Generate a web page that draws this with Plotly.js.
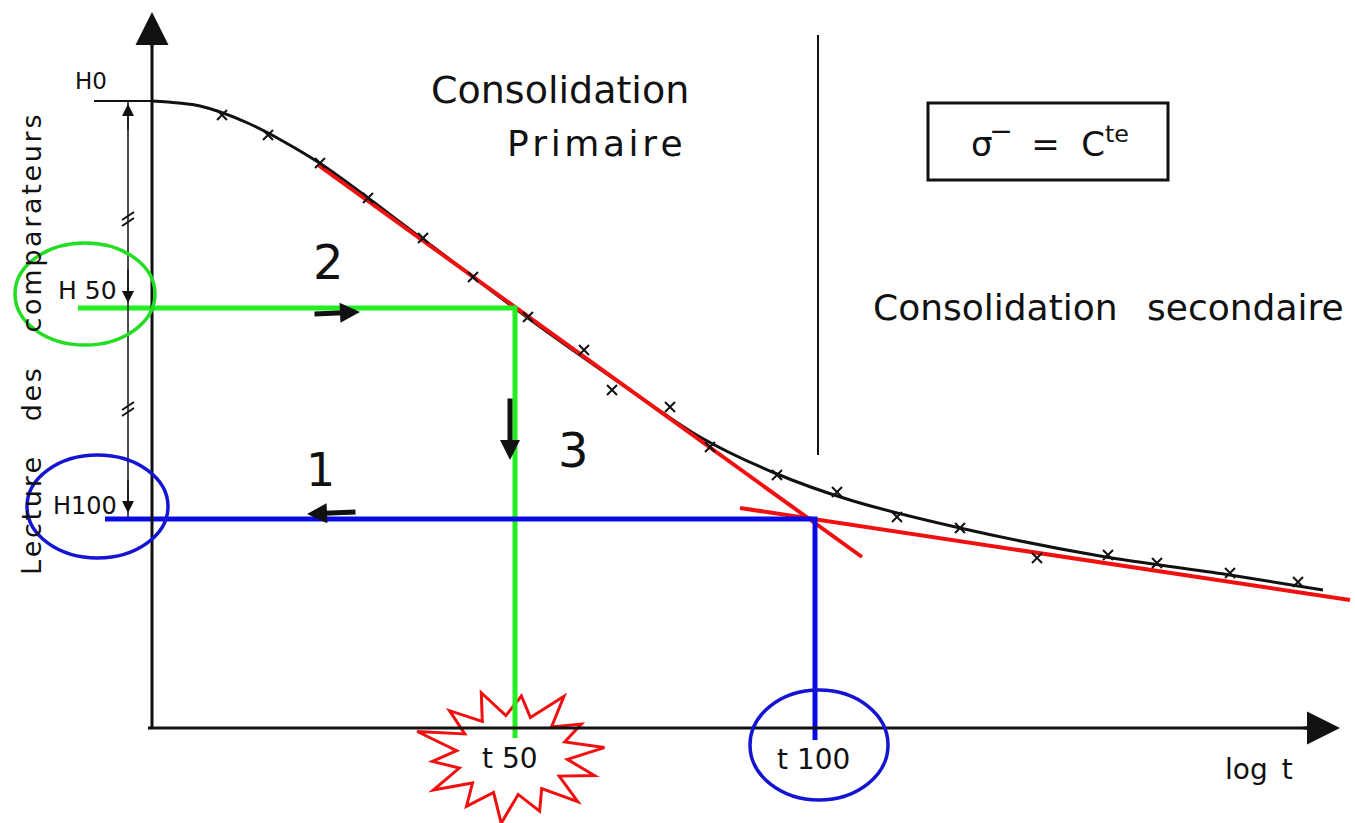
<!DOCTYPE html>
<html>
<head>
<meta charset="utf-8">
<script src="https://cdn.plot.ly/plotly-3.0.1.min.js"></script>
<style>
  body { margin: 0; background: #fff; }
  #chart { width: 1355px; height: 823px; }
</style>
</head>
<body>
<div id="chart"></div>
<script>
// readings against log t (1 unit = 100 px)
var curveLogT    = [0, 0.48, 0.98, 1.66, 2.68, 3.76, 4.68, 5.48, 6.25, 6.98, 8.08, 9.48, 10.78, 11.71];
var curveReading = [6.27, 6.22, 6.04, 5.66, 4.91, 4.10, 3.45, 2.91, 2.54, 2.28, 2.00, 1.72, 1.53, 1.38];

// measured points (crosses)
var pointsLogT    = [0.70, 1.16, 1.68, 2.16, 2.71, 3.21, 3.76, 4.32, 4.60, 5.18, 5.58, 6.25, 6.85, 7.45, 8.08, 8.85, 9.56, 10.05, 10.78, 11.46];
var pointsReading = [6.13, 5.93, 5.65, 5.30, 4.90, 4.51, 4.11, 3.78, 3.38, 3.21, 2.81, 2.53, 2.36, 2.11, 2.00, 1.70, 1.73, 1.65, 1.55, 1.46];

// tangents
var primaryLogT      = [1.66, 7.10];
var primaryReading   = [5.63, 1.71];
var secondaryLogT    = [5.88, 11.98];
var secondaryReading = [2.20, 1.28];

// characteristic values
var H0 = 6.27, H50 = 4.20, H100 = 2.09;
var t50 = 3.63, t100 = 6.63;

var font = "DejaVu Sans";
function spaced(s, sep) { return s.split("").join(sep || "\u2009"); }

var traces = [
  { x: curveLogT, y: curveReading, mode: "lines", line: { color: "#111", width: 3, shape: "spline", smoothing: 0.8 } },
  { x: primaryLogT, y: primaryReading, mode: "lines", line: { color: "#f01010", width: 4 } },
  { x: secondaryLogT, y: secondaryReading, mode: "lines", line: { color: "#f01010", width: 4 } },
  { x: pointsLogT, y: pointsReading, mode: "markers",
    marker: { symbol: "x-thin", size: 10, line: { color: "#111", width: 2 } } },
  // H50 / t50 construction
  { x: [-0.74, t50, t50], y: [H50, H50, -0.10], mode: "lines", line: { color: "#22ee22", width: 5 } },
  // H100 / t100 construction
  { x: [-0.47, t100, t100], y: [H100, H100, -0.12], mode: "lines", line: { color: "#0a0ae6", width: 5 } }
];

// starburst around t50
var burstOuter = [1, 0.88, 1.05, 0.9, 1.0, 0.95, 1.08, 0.86, 1.0, 0.92, 1.04, 0.9, 1.0, 0.94];
var cx = 3.60, cy = -0.27;
var path = "";
for (var i = 0; i < burstOuter.length * 2; i++) {
  var a = Math.PI * (i + 0.5) / burstOuter.length;
  var r = (i % 2 === 0) ? burstOuter[i / 2] : 0.6;
  var px = cx + 0.93 * r * Math.cos(a);
  var py = cy + 0.66 * r * Math.sin(a);
  path += (i === 0 ? "M" : "L") + px.toFixed(3) + "," + py.toFixed(3);
}
path += "Z";

var shapes = [
  // axes
  { type: "line", x0: -0.04, y0: 0, x1: 11.8, y1: 0, line: { color: "#111", width: 3 } },
  { type: "line", x0: 0, y0: 0, x1: 0, y1: 6.9, line: { color: "#111", width: 3 } },
  // H0 tick
  { type: "line", x0: -0.58, y0: H0, x1: 0.08, y1: H0, line: { color: "#111", width: 2 } },
  // double arrow rule
  { type: "line", x0: -0.24, y0: H0, x1: -0.24, y1: H100 + 0.02, line: { color: "#111", width: 1.5 } },
  // primary / secondary divider
  { type: "line", x0: 6.66, y0: 6.93, x1: 6.66, y1: 2.73, line: { color: "#111", width: 2 } },
  // box
  { type: "rect", x0: 7.76, y0: 6.25, x1: 10.16, y1: 5.48, line: { color: "#111", width: 3 } },
  // slashes on the rule
  { type: "line", x0: -0.30, y0: 5.02, x1: -0.18, y1: 5.10, line: { color: "#111", width: 2 } },
  { type: "line", x0: -0.30, y0: 5.08, x1: -0.18, y1: 5.16, line: { color: "#111", width: 2 } },
  { type: "line", x0: -0.30, y0: 3.12, x1: -0.18, y1: 3.20, line: { color: "#111", width: 2 } },
  { type: "line", x0: -0.30, y0: 3.18, x1: -0.18, y1: 3.26, line: { color: "#111", width: 2 } },
  // ellipses
  { type: "circle", x0: -1.37, y0: 4.85, x1: 0.03, y1: 3.83, line: { color: "#22dd22", width: 3.5 } },
  { type: "circle", x0: -1.25, y0: 2.73, x1: 0.16, y1: 1.70, line: { color: "#1414d2", width: 3.5 } },
  { type: "circle", x0: 5.98, y0: 0.38, x1: 7.36, y1: -0.72, line: { color: "#1414d2", width: 3.5 } },
  { type: "path", path: path, line: { color: "#f01010", width: 3 }, fillcolor: "rgba(255,255,255,0.85)", layer: "below" }
];

function txt(x, y, text, size, extra) {
  var a = { x: x, y: y, text: text, showarrow: false, font: { family: font, size: size, color: "#111" } };
  for (var k in extra) a[k] = extra[k];
  return a;
}
function arrow(x, y, ax, ay, w, s) {
  return { x: x, y: y, ax: ax, ay: ay, axref: "x", ayref: "y", text: "", showarrow: true,
           arrowhead: 2, arrowwidth: w, arrowsize: s, arrowcolor: "#111" };
}

var annotations = [
  txt(-0.61, 6.47, "H0", 23),
  txt(-0.65, 4.38, "H 50", 25),
  txt(-0.67, 2.22, "H100", 24),
  txt(4.08, 6.38, "Consolidation", 38),
  txt(4.43, 5.85, spaced("Primaire", "\u200A"), 36),
  txt(9.56, 4.21, "Consolidation\u2002 secondaire", 36),
  txt(8.98, 5.86, "σ\u203E  =  C<sup>te</sup>", 34),
  txt(1.76, 4.66, "2", 48),
  txt(1.68, 2.58, "1", 46),
  txt(4.21, 2.78, "3", 48),
  txt(3.58, -0.30, "t 50", 28),
  txt(6.61, -0.31, "t 100", 28),
  txt(11.07, -0.41, "log\u2002t", 28),
  txt(-1.21, 3.83, spaced("Lecture", "\u200A") + "\u2003 " + spaced("des", "\u200A") + "\u2003 " + spaced("comparateurs", "\u200A"), 27, { textangle: -90 }),
  // axis arrow heads
  arrow(0, 7.16, 0, 6.8, 3, 2.2),
  arrow(11.88, 0, 11.5, 0, 3, 2.2),
  // rule arrow heads
  arrow(-0.24, H0 - 0.03, -0.24, H0 - 0.3, 1.5, 1.6),
  arrow(-0.24, H50 + 0.05, -0.24, H50 + 0.4, 1.5, 1.6),
  arrow(-0.24, H100 + 0.06, -0.24, H100 + 0.4, 1.5, 1.6),
  // reading order arrows
  arrow(2.08, 4.16, 1.61, 4.14, 5, 0.8),
  arrow(1.55, 2.14, 2.05, 2.16, 5, 0.8),
  arrow(3.58, 2.68, 3.58, 3.31, 5, 0.8)
];

var layout = {
  width: 1355, height: 823,
  margin: { l: 0, r: 0, t: 0, b: 0 },
  paper_bgcolor: "#fff", plot_bgcolor: "#fff",
  showlegend: false,
  xaxis: { range: [-1.52, 12.03], visible: false, fixedrange: true },
  yaxis: { range: [-0.95, 7.28], visible: false, fixedrange: true },
  shapes: shapes,
  annotations: annotations
};

Plotly.newPlot("chart", traces, layout, { staticPlot: true });
</script>
</body>
</html>
